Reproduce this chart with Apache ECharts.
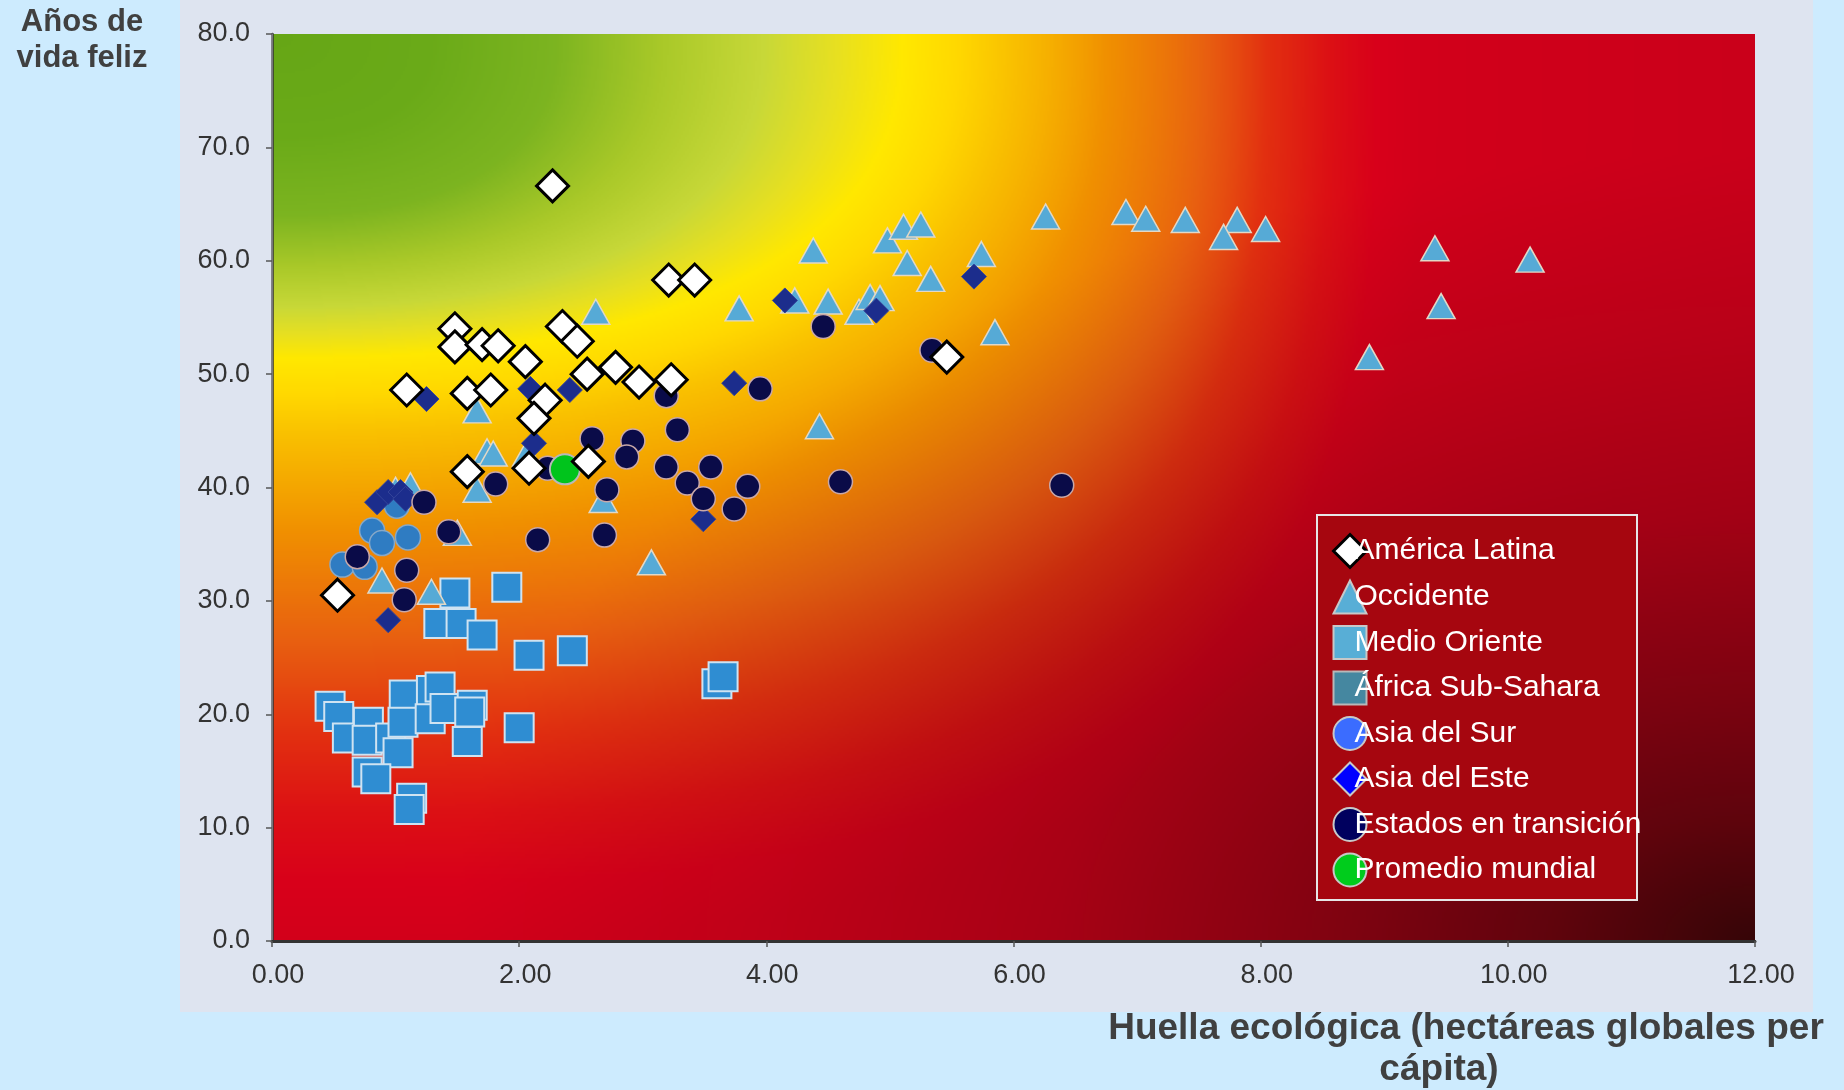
<!DOCTYPE html>
<html>
<head>
<meta charset="utf-8">
<script src="https://cdn.jsdelivr.net/npm/echarts@6/dist/echarts.min.js"></script>
<style>
  html, body { margin: 0; padding: 0; background: #cdebfe; }
  #chart { width: 1844px; height: 1090px; }
</style>
</head>
<body>
<div id="chart"></div>
<script>
// ---- datos: [huella ecológica, años de vida feliz] ----
const americaLatina = [
  [2.27, 66.6], [1.48, 54.0], [1.48, 52.4], [1.70, 52.6], [1.83, 52.5], [2.05, 51.1],
  [1.09, 48.6], [1.58, 48.3], [1.77, 48.6], [2.21, 47.7], [2.12, 46.1], [2.35, 54.2],
  [2.47, 52.9], [2.55, 50.0], [2.78, 50.6], [2.97, 49.3], [3.23, 49.5], [3.21, 58.3],
  [3.42, 58.3], [1.58, 41.4], [2.08, 41.7], [2.56, 42.3], [0.53, 30.5], [5.46, 51.5]
];
const occidente = [
  [2.62, 55.5], [3.78, 55.8], [4.38, 60.9], [4.23, 56.5], [4.50, 56.4], [4.75, 55.5],
  [4.84, 56.8], [4.92, 56.7], [4.98, 61.8], [5.11, 63.0], [5.25, 63.2], [5.14, 59.8],
  [5.33, 58.4], [5.74, 60.6], [5.85, 53.7], [6.26, 63.9], [6.91, 64.3], [7.07, 63.7],
  [7.39, 63.6], [7.81, 63.6], [7.70, 62.1], [8.04, 62.8], [9.41, 61.1], [9.46, 56.0],
  [8.88, 51.5], [10.18, 60.1], [4.43, 45.4], [3.07, 33.4], [2.68, 38.9], [1.74, 43.2],
  [1.79, 43.0], [1.66, 39.8], [2.06, 43.0], [1.66, 46.8], [1.50, 36.0], [1.12, 40.2],
  [1.00, 39.8], [0.89, 31.8], [1.29, 30.8]
];
const medioOriente = [
  [1.90, 31.2], [2.08, 25.2], [2.43, 25.6], [3.60, 22.7], [3.65, 23.3]
];
const africaSubSahara = [
  [0.47, 20.7], [0.54, 19.8], [0.61, 17.9], [0.78, 19.3], [0.77, 17.7], [0.96, 17.9],
  [1.02, 16.6], [0.77, 14.9], [0.84, 14.3], [1.07, 21.7], [1.06, 19.3], [1.29, 22.1],
  [1.36, 22.4], [1.28, 19.6], [1.40, 20.5], [1.62, 20.8], [1.60, 20.2], [1.58, 17.6],
  [2.00, 18.8], [1.13, 12.6], [1.11, 11.6], [1.35, 28.0], [1.53, 28.0], [1.70, 27.0],
  [1.48, 30.7]
];
const asiaSur = [
  [0.81, 36.2], [0.89, 35.1], [1.10, 35.6], [1.01, 38.4], [0.57, 33.2], [0.75, 33.0]
];
const asiaEste = [
  [4.15, 56.5], [4.89, 55.6], [5.68, 58.6], [3.74, 49.2], [3.49, 37.2], [1.25, 47.8],
  [2.09, 48.7], [2.41, 48.6], [2.12, 43.9], [0.85, 38.7], [0.94, 39.6], [1.04, 39.6],
  [1.08, 39.0], [0.94, 28.3]
];
const estadosTransicion = [
  [4.46, 54.2], [3.95, 48.7], [3.19, 48.1], [3.28, 45.1], [2.59, 44.3], [2.92, 44.1],
  [2.87, 42.7], [3.19, 41.8], [3.55, 41.8], [3.36, 40.4], [3.49, 39.0], [3.85, 40.1],
  [3.74, 38.1], [2.71, 39.8], [2.69, 35.8], [4.60, 40.5], [5.34, 52.1], [6.39, 40.2],
  [1.81, 40.3], [2.23, 41.7], [2.15, 35.4], [1.43, 36.1], [1.23, 38.7], [0.69, 33.9],
  [1.09, 32.7], [1.07, 30.1]
];
const promedioMundial = [[2.37, 41.6]];

const xTicks = [0, 2, 4, 6, 8, 10, 12];
const yTicks = [0, 10, 20, 30, 40, 50, 60, 70, 80];

// ---- geometría ----
const gridLeft = 272, gridTop = 34, gridW = 1483, gridH = 907;
const FONT = '"Liberation Sans", Arial, sans-serif';

// fondo: color según "nivel" s (px desde arriba en el borde izquierdo);
// las curvas de nivel son superelipses centradas en la esquina sup. izquierda
const bgStops = [
  [0, '#66a616'], [100, '#6aaa18'], [180, '#7cb420'], [230, '#a8c828'],
  [272, '#c8d838'], [300, '#e8e020'], [323, '#ffe800'], [360, '#ffd800'],
  [400, '#f9c000'], [496, '#f09000'], [606, '#e86010'], [700, '#e23010'],
  [780, '#dc1014'], [850, '#d8001a'], [907, '#d2001a'], [1300, '#c8001a'], [3000, '#c0001a']
];
// ancho/alto de cada curva de nivel y su exponente
const bgRatio = [[0, 1.55], [180, 1.57], [230, 1.68], [272, 1.81], [323, 1.95], [400, 1.85],
  [496, 1.68], [700, 1.42], [850, 1.3], [1000, 1.22], [3000, 1.1]];
const bgPow = [[0, 2.4], [400, 2.4], [800, 3], [3000, 3]];
// oscurecimiento hacia la esquina inferior derecha (distancia elíptica)
const darkStops = [
  [0, 0.86], [200, 0.62], [400, 0.45], [700, 0.23], [1000, 0.1], [1300, 0], [3000, 0]
];

function hexRgb(h) {
  return [parseInt(h.slice(1, 3), 16), parseInt(h.slice(3, 5), 16), parseInt(h.slice(5, 7), 16)];
}
function interp(tab, s) {
  if (s <= tab[0][0]) return tab[0][1];
  for (let i = 1; i < tab.length; i++) {
    if (s <= tab[i][0]) {
      const t = (s - tab[i - 1][0]) / (tab[i][0] - tab[i - 1][0]);
      return tab[i - 1][1] + (tab[i][1] - tab[i - 1][1]) * t;
    }
  }
  return tab[tab.length - 1][1];
}

function makeBackground() {
  const sc = 2; // media resolución, el degradado es suave
  const w = Math.ceil(gridW / sc), h = Math.ceil(gridH / sc);
  const cv = document.createElement('canvas');
  cv.width = w; cv.height = h;
  const ctx = cv.getContext('2d');
  const img = ctx.createImageData(w, h);
  const N = 3000;
  const lutC = new Float32Array(N * 3), lutA = new Float32Array(N);
  const lutR = new Float32Array(N), lutP = new Float32Array(N);
  const cs = bgStops.map(s => [s[0], hexRgb(s[1])]);
  let j = 0;
  for (let d = 0; d < N; d++) {
    while (j < cs.length - 2 && d > cs[j + 1][0]) j++;
    let t = Math.max(0, Math.min(1, (d - cs[j][0]) / (cs[j + 1][0] - cs[j][0])));
    for (let c = 0; c < 3; c++) lutC[d * 3 + c] = cs[j][1][c] + (cs[j + 1][1][c] - cs[j][1][c]) * t;
    lutA[d] = interp(darkStops, d);
    lutR[d] = interp(bgRatio, d);
    lutP[d] = interp(bgPow, d);
  }
  const dark = [30, 6, 4];
  let p = 0;
  for (let yy = 0; yy < h; yy++) {
    const py = yy * sc;
    for (let xx = 0; xx < w; xx++) {
      const px = xx * sc;
      // bisección para el nivel s
      let lo = 0, hi = N - 1;
      if (px > 0 || py > 0) {
        for (let it = 0; it < 20; it++) {
          const s = (lo + hi) / 2, si = Math.round(s);
          const e = lutP[si];
          const g = Math.pow(px / (lutR[si] * s), e) + Math.pow(py / s, e);
          if (g > 1) lo = s; else hi = s;
        }
      } else { hi = 0; }
      const d = Math.min(N - 1, Math.round(hi));
      const de = Math.min(N - 1, Math.round(Math.hypot(gridW - px, (gridH - py) * 1.65)));
      const a = lutA[de];
      img.data[p] = lutC[d * 3] * (1 - a) + dark[0] * a;
      img.data[p + 1] = lutC[d * 3 + 1] * (1 - a) + dark[1] * a;
      img.data[p + 2] = lutC[d * 3 + 2] * (1 - a) + dark[2] * a;
      img.data[p + 3] = 255;
      p += 4;
    }
  }
  ctx.putImageData(img, 0, 0);
  return cv;
}

let myChart = echarts.init(document.getElementById('chart'));

let legendStyle = {
  'América Latina': { icon: 'diamond', itemStyle: { color: '#ffffff', borderColor: '#000', borderWidth: 3 } },
  'Occidente': { icon: 'triangle', itemStyle: { color: '#58aed6', borderColor: '#c8c8c8', borderWidth: 2 } },
  'Medio Oriente': { icon: 'rect', itemStyle: { color: '#58aed6', borderColor: '#c8c8c8', borderWidth: 2 } },
  'África Sub-Sahara': { icon: 'rect', itemStyle: { color: '#4587a0', borderColor: '#b8b8b8', borderWidth: 2 } },
  'Asia del Sur': { icon: 'circle', itemStyle: { color: '#3b6cff', borderColor: '#c8c8c8', borderWidth: 2 } },
  'Asia del Este': { icon: 'diamond', itemStyle: { color: '#0000ff', borderColor: '#c8c8c8', borderWidth: 2 } },
  'Estados en transición': { icon: 'circle', itemStyle: { color: '#00005e', borderColor: '#c8c8c8', borderWidth: 2 } },
  'Promedio mundial': { icon: 'circle', itemStyle: { color: '#00cc1c', borderColor: '#c8c8c8', borderWidth: 2 } }
};

function scatter(name, data, symbol, size, itemStyle) {
  return {
    name: name, type: 'scatter', data: data, symbol: symbol, symbolSize: size,
    itemStyle: itemStyle, emphasis: { disabled: true }
  };
}

// ejes de marco (arriba / derecha), solo la línea
function frameAxis(pos, min, max, color, width) {
  return {
    type: 'value', position: pos, min: min, max: max,
    axisLine: { show: true, lineStyle: { color: color, width: width } },
    axisTick: { show: false }, axisLabel: { show: false }, splitLine: { show: false }
  };
}

let option = {
  backgroundColor: '#cdebfe',
  animation: false,
  grid: {
    left: gridLeft, top: gridTop, width: gridW, height: gridH,
    show: false
  },
  xAxis: [{
    type: 'value', min: 0, max: 12, interval: 2,
    axisLine: { lineStyle: { color: '#444', width: 2 } },
    axisTick: { length: 6, lineStyle: { color: '#555', width: 1.5 } },
    splitLine: { show: false },
    axisLabel: {
      margin: 21, color: '#333', fontSize: 27, fontFamily: FONT, padding: [0, 0, 0, 12],
      formatter: v => v.toFixed(2)
    }
  }, frameAxis('top', 0, 12, '#333', 3)],
  yAxis: [{
    type: 'value', min: 0, max: 80, interval: 10,
    axisLine: { lineStyle: { color: '#333', width: 2.5 } },
    axisTick: { length: 6, lineStyle: { color: '#555', width: 1.5 } },
    splitLine: { show: false },
    axisLabel: {
      margin: 22, color: '#333', fontSize: 27, fontFamily: FONT,
      formatter: v => v.toFixed(1)
    }
  }, frameAxis('right', 0, 80, '#8e8e96', 1.5)],
  legend: {
    orient: 'vertical', left: 1327, top: 528,
    itemWidth: 33, itemHeight: 33, itemGap: 10.5,
    selectedMode: false,
    textStyle: { color: '#ffffff', fontSize: 30, fontFamily: FONT, padding: [0, 0, 0, -17] },
    data: Object.keys(legendStyle).map(n => Object.assign({ name: n }, legendStyle[n]))
  },
  graphic: [
    { // panel gris claro
      type: 'rect', z: -3, silent: true,
      shape: { x: 180, y: 0, width: 1633, height: 1012 },
      style: { fill: '#dee4f0' }
    },
    { // degradado de fondo del área de trazado
      type: 'image', z: -2, silent: true, x: gridLeft, y: gridTop,
      style: { image: makeBackground(), width: gridW, height: gridH }
    },
    { // caja de la leyenda
      type: 'rect', z: 1, silent: true,
      shape: { x: 1317, y: 515, width: 320, height: 385 },
      style: { fill: '#a6060f', stroke: '#e6e6e6', lineWidth: 2 }
    },
    {
      type: 'text', z: 5, silent: true, x: 82, y: 4,
      style: {
        text: 'Años de\nvida feliz', font: 'bold 31px ' + FONT, fill: '#404040',
        align: 'center', verticalAlign: 'top', lineHeight: 36
      }
    },
    {
      type: 'text', z: 5, silent: true, x: 1466, y: 1029,
      style: {
        text: 'Huella ecológica (hectáreas globales per', font: 'bold 37px ' + FONT,
        fill: '#404040', align: 'center', verticalAlign: 'middle'
      }
    },
    {
      type: 'text', z: 5, silent: true, x: 1439, y: 1070,
      style: {
        text: 'cápita)', font: 'bold 37px ' + FONT,
        fill: '#404040', align: 'center', verticalAlign: 'middle'
      }
    }
  ],
  series: [
    scatter('África Sub-Sahara', africaSubSahara, 'rect', 29,
      { color: '#2f8dd2', borderColor: '#cfe3f2', borderWidth: 2, opacity: 1 }),
    scatter('Medio Oriente', medioOriente, 'rect', 29,
      { color: '#2f8dd2', borderColor: '#cfe3f2', borderWidth: 2, opacity: 1 }),
    scatter('Occidente', occidente, 'triangle', [28, 25],
      { color: '#56aad6', borderColor: '#e2d8c6', borderWidth: 1.5, opacity: 1 }),
    scatter('Asia del Sur', asiaSur, 'circle', 25,
      { color: '#2f7cc2', borderColor: '#86a8c8', borderWidth: 1.5, opacity: 1 }),
    scatter('Asia del Este', asiaEste, 'diamond', 25,
      { color: '#1c2d8c', borderColor: '#34449a', borderWidth: 1, opacity: 1 }),
    scatter('Estados en transición', estadosTransicion, 'circle', 24,
      { color: '#0a0b48', borderColor: '#c9a8a8', borderWidth: 1.5, opacity: 1 }),
    scatter('Promedio mundial', promedioMundial, 'circle', 30,
      { color: '#00c41c', borderColor: '#b8b8b8', borderWidth: 2, opacity: 1 }),
    scatter('América Latina', americaLatina, 'diamond', 32,
      { color: '#ffffff', borderColor: '#000000', borderWidth: 3, opacity: 1 })
  ]
};

myChart.setOption(option);
</script>
</body>
</html>
